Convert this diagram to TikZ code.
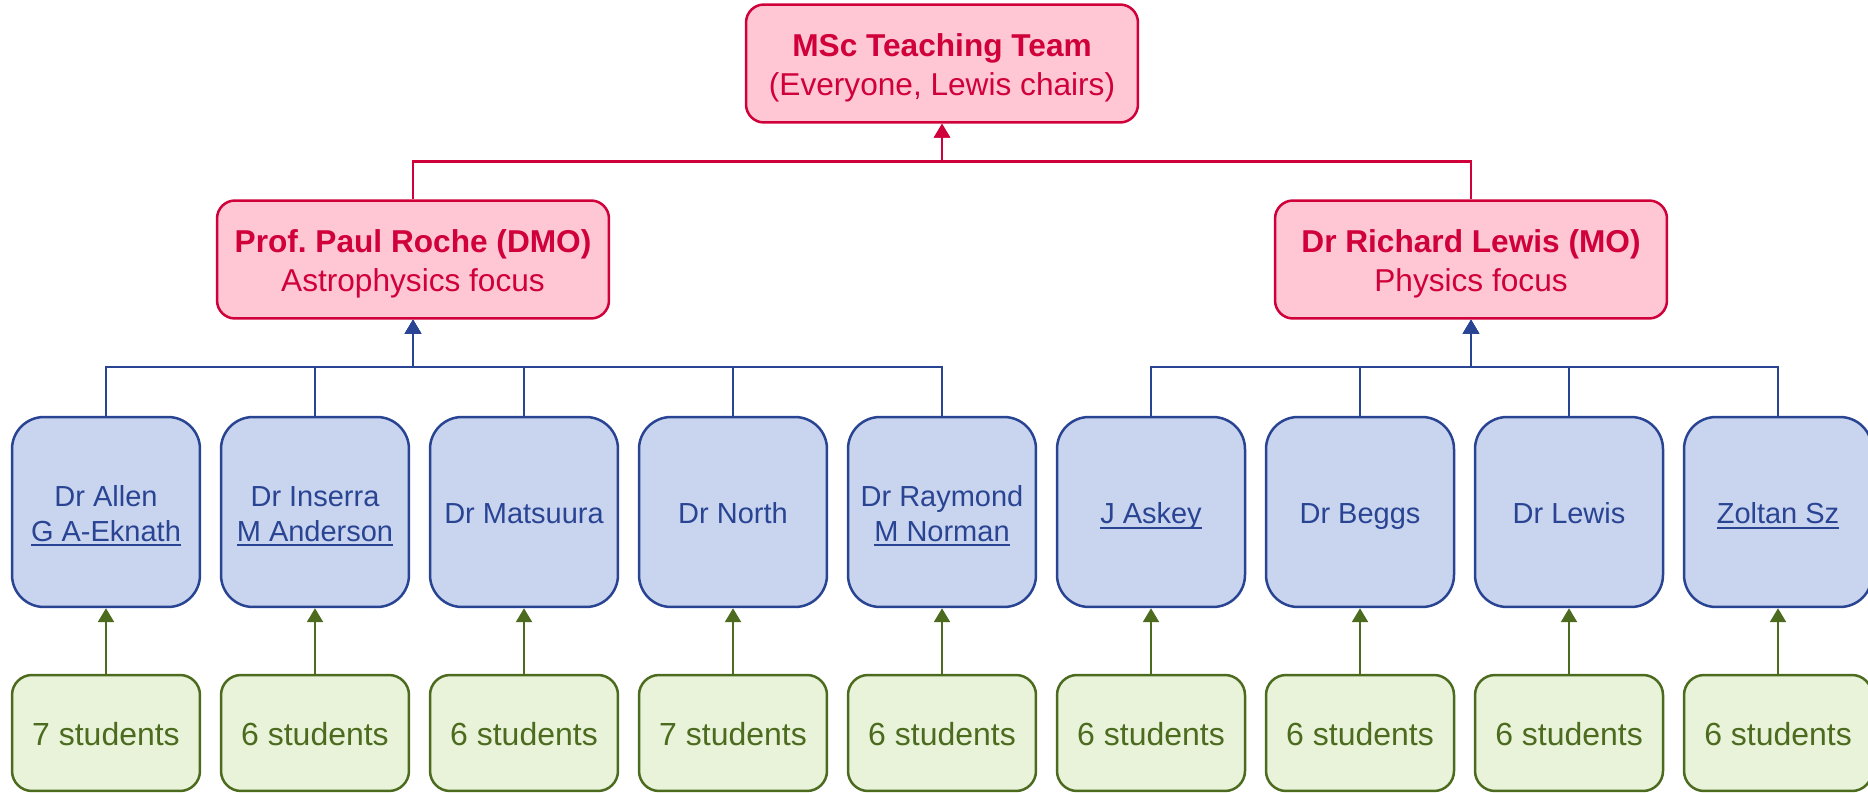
\documentclass[tikz,border=0pt]{standalone}
\usepackage{fontspec}
\setmainfont{Liberation Sans}
\usetikzlibrary{arrows.meta}
\frenchspacing

\newcommand{\undl}[1]{\setbox0\hbox{#1}\rlap{\rule[-2.9pt]{\wd0}{1.1pt}}\box0}
\newcommand{\topstrut}{\rule{0pt}{1.1em}}
\newcommand{\botstrut}{\rule[-0.3em]{0pt}{0.3em}}

\definecolor{headline}{HTML}{D0003A}
\definecolor{headfill}{HTML}{FFC6D4}
\definecolor{tutorline}{HTML}{2A4494}
\definecolor{tutorfill}{HTML}{C9D5EE}
\definecolor{grpline}{HTML}{4C6B1F}
\definecolor{grpfill}{HTML}{E8F3D9}

\tikzset{
  head/.style={draw=headline, fill=headfill, text=headline, line width=0.05cm,
    rounded corners=0.36cm, minimum width=7.84cm, minimum height=2.36cm,
    align=center, font=\fontsize{18}{21.9}\selectfont},
  tutor/.style={draw=tutorline, fill=tutorfill, text=tutorline, line width=0.05cm,
    rounded corners=0.64cm, minimum width=3.76cm, minimum height=3.8cm,
    align=center, font=\fontsize{16.5}{19.9}\selectfont},
  group/.style={draw=grpline, fill=grpfill, text=grpline, line width=0.05cm,
    rounded corners=0.4cm, minimum width=3.76cm, minimum height=2.32cm,
    align=center, font=\fontsize{18.2}{21.6}\selectfont},
  headarrow/.style={draw=headline, line width=0.05cm, -{Triangle[width=0.32cm,length=0.28cm]}},
  tutorarrow/.style={draw=tutorline, line width=0.05cm, -{Triangle[width=0.32cm,length=0.28cm]}},
  grparrow/.style={draw=grpline, line width=0.05cm, -{Triangle[width=0.32cm,length=0.28cm]}}
}

\begin{document}
\begin{tikzpicture}[x=0.02cm, y=-0.02cm]
  \useasboundingbox (0,0) rectangle (1868,793);
  % Heads
  \node[head] (team) at (942,63.5) {\topstrut\textbf{MSc Teaching Team}\\(Everyone, Lewis chairs)\botstrut};
  \node[head] (roche) at (413,259.5) {\topstrut\textbf{Prof. Paul Roche (DMO)}\\Astrophysics focus\botstrut};
  \node[head] (lewis) at (1471,259.5) {\topstrut\textbf{Dr Richard Lewis (MO)}\\Physics focus\botstrut};
  % Tutors and their groups
  \foreach \name/\n [count=\i] in {
      {Dr Allen\\\undl{G A-Eknath}}/7,
      {Dr Inserra\\\undl{M Anderson}}/6,
      {Dr Matsuura}/6,
      {Dr North}/7,
      {Dr Raymond\\\undl{M Norman}}/6,
      {\undl{J Askey}}/6,
      {Dr Beggs}/6,
      {Dr Lewis}/6,
      {\undl{Zoltan Sz}}/6} {
    \node[tutor] (t\i) at ({106+209*(\i-1)},512) {\topstrut\name\botstrut};
    \node[group] (s\i) at ({106+209*(\i-1)},733) {\topstrut\n\ students\botstrut};
    \draw[grparrow] (s\i) -- (t\i);
  }
  % Connectors
  \foreach \i in {1,...,5} {
    \draw[tutorarrow] (t\i.north) -- ++(0,-49) -| (roche.south);
  }
  \foreach \i in {6,...,9} {
    \draw[tutorarrow] (t\i.north) -- ++(0,-49) -| (lewis.south);
  }
  \draw[headarrow] (roche.north) -- ++(0,-38) -| (team.south);
  \draw[headarrow] (lewis.north) -- ++(0,-38) -| (team.south);
\end{tikzpicture}
\end{document}
